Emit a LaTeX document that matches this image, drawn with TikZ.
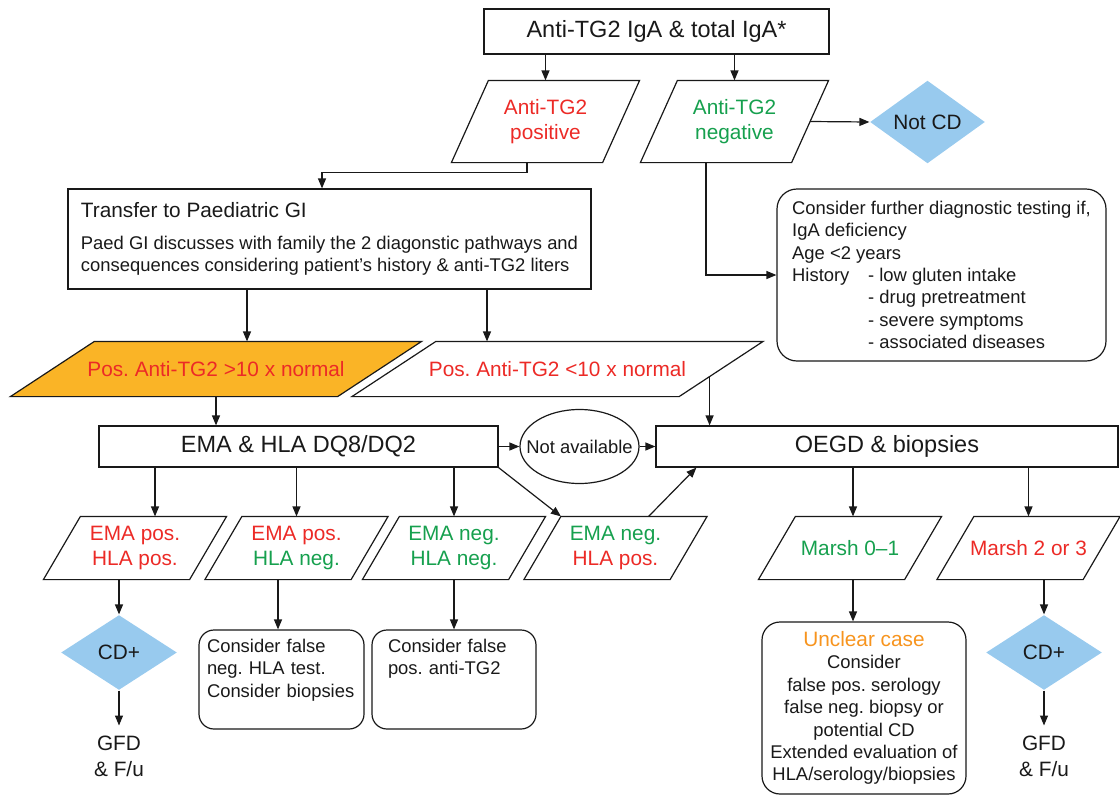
\documentclass[tikz,border=0pt]{standalone}
\usepackage{fontspec}
\setmainfont{Liberation Sans}
\usetikzlibrary{shapes.geometric,arrows.meta,calc,backgrounds}
\definecolor{cdred}{RGB}{236,42,38}
\definecolor{cdgreen}{RGB}{22,160,78}
\definecolor{cdorange}{RGB}{247,148,30}
\definecolor{cdfill}{RGB}{250,180,38}
\definecolor{cdblue}{RGB}{152,202,238}
\definecolor{ink}{RGB}{25,25,25}
\newcommand{\fbig}{\fontsize{23.5}{27}\selectfont}
\newcommand{\fmid}{\fontsize{20.8}{25.5}\selectfont}
\newcommand{\fsm}{\fontsize{18.4}{22.4}\selectfont}
% parallelogram outline drawn from a named node's bounding box; #3 = slant offset
\newcommand{\pgram}[3][]{\draw[pgline,#1] (#2.south west) -- ([xshift=-#3]#2.south east) -- (#2.north east) -- ([xshift=#3]#2.north west) -- cycle;}
\frenchspacing
\begin{document}
\begin{tikzpicture}[x=1pt,y=-1pt,line width=1.2pt,draw=ink,text=ink,
  pgline/.style={line width=1.2pt,draw=ink,line join=miter},
  box/.style={draw,rectangle,inner sep=0pt},
  rbox/.style={draw,rectangle,rounded corners=#1,inner sep=0pt},
  rbox/.default=16pt,
  para/.style={rectangle,inner sep=0pt,align=center,font=\fmid},
  smallpara/.style={para,minimum width=182pt,minimum height=62pt},
  toppara/.style={para,minimum width=187pt,minimum height=81pt},
  widepara/.style={para,minimum width=410pt,minimum height=54pt,text=cdred},
  dia/.style={diamond,fill=cdblue,inner sep=0pt,font=\fmid,minimum width=116pt,minimum height=75pt},
  endtext/.style={font=\fmid,align=center,anchor=north,inner xsep=0pt,inner ysep=10pt},
  arr/.style={-{Triangle[length=10pt,width=8pt]},line width=1.2pt}]
\useasboundingbox (0,0) rectangle (1120,796);

% top level
\node[box,minimum width=345pt,minimum height=45pt,font=\fbig] (title) at (656.5,31.5) {Anti-TG2 IgA \& total IgA*};
\node[toppara,text=cdred] (pos) at (545.5,121.5) {Anti-TG2\\positive};
\node[toppara,text=cdgreen] (neg) at (734.5,121.5) {Anti-TG2\\negative};
\node[dia,minimum width=115pt,minimum height=74pt] (notcd) at (927.5,122) {Not CD};

\node[box,minimum width=523pt,minimum height=100pt,align=left,font=\fsm] (trans) at (329.5,239)
  {{\fmid Transfer to Paediatric GI}\\[9pt]Paed GI discusses with family the 2 diagonstic pathways and\\consequences considering patient’s history \& anti-TG2 liters};

\node[rbox=20pt,minimum width=329pt,minimum height=172pt,align=left,font=\fsm] (cons) at (941.5,275)
  {Consider further diagnostic testing if,\\IgA deficiency\\Age <2 years\\\makebox[76pt][l]{History}- low gluten intake\\\hspace*{76pt}- drug pretreatment\\\hspace*{76pt}- severe symptoms\\\hspace*{76pt}- associated diseases};

\node[widepara] (hi) at (216,369) {Pos. Anti-TG2 >10 x normal};
\node[widepara] (lo) at (557.5,369) {Pos. Anti-TG2 <10 x normal};

\node[box,minimum width=399pt,minimum height=41pt,font=\fbig] (ema) at (298.5,446.5) {EMA \& HLA DQ8/DQ2};
\node[draw,ellipse,minimum width=119pt,minimum height=74pt,inner xsep=-15pt,inner ysep=0pt,font=\fsm] (na) at (579.5,446.5) {Not available};
\node[box,minimum width=462pt,minimum height=41pt,font=\fbig] (oegd) at (887,446.5) {OEGD \& biopsies};

% results
\node[smallpara] (p1) at (135,548) {\textcolor{cdred}{EMA pos.}\\\textcolor{cdred}{HLA pos.}};
\node[smallpara] (p2) at (296.5,548) {\textcolor{cdred}{EMA pos.}\\\textcolor{cdgreen}{HLA neg.}};
\node[smallpara] (p3) at (454,548) {\textcolor{cdgreen}{EMA neg.}\\\textcolor{cdgreen}{HLA neg.}};
\node[smallpara] (p4) at (615.5,548) {\textcolor{cdgreen}{EMA neg.}\\\textcolor{cdred}{HLA pos.}};
\node[smallpara,text=cdgreen] (m0) at (850,548) {Marsh 0–1};
\node[smallpara,text=cdred] (m2) at (1028.5,548) {Marsh 2 or 3};

\node[dia] (cd1) at (119,652.5) {CD+};
\node[dia] (cd2) at (1044,652.5) {CD+};
\node[endtext] (gfd1) at (119,725.5) {GFD\\\& F/u};
\node[endtext] (gfd2) at (1044,725.5) {GFD\\\& F/u};

\node[rbox=15pt,minimum width=165pt,minimum height=99pt,text width=149pt,align=left,font=\fsm] (fneg) at (281.5,679.5)
  {Consider false\\neg. HLA test.\\Consider biopsies\\\mbox{}};
\node[rbox=15pt,minimum width=164pt,minimum height=99pt,text width=132pt,align=left,font=\fsm] (fpos) at (454,679.5)
  {Consider false\\pos. anti-TG2\\\mbox{}\\\mbox{}};
\node[rbox=18pt,minimum width=204pt,minimum height=172pt,align=center,font=\fsm] (uncl) at (864,708)
  {{\fmid\color{cdorange}Unclear case}\\Consider\\false pos. serology\\false neg. biopsy or\\potential CD\\Extended evaluation of\\HLA/serology/biopsies};

% parallelogram outlines behind the texts
\begin{scope}[on background layer]
  \pgram{pos}{37pt}
  \pgram{neg}{37pt}
  \pgram[fill=cdfill]{hi}{84pt}
  \pgram{lo}{84pt}
  \pgram{p1}{37pt}
  \pgram{p2}{37pt}
  \pgram{p3}{37pt}
  \pgram{p4}{37pt}
  \pgram{m0}{37pt}
  \pgram{m2}{37pt}
\end{scope}

% connection points on slanted or shifted edges
\coordinate (posb) at ([xshift=-18.5pt]pos.south);
\coordinate (negr) at ([xshift=-18.5pt]neg.east);
\coordinate (negb) at ([xshift=-28.5pt]neg.south);
\coordinate (lr) at ($([xshift=-84pt]lo.south east)!0.363!(lo.north east)$);
\coordinate (p4tl) at ([xshift=37pt]p4.north west);
\coordinate (p4t) at ($(p4tl)!0.6!(p4.north east)$);
\coordinate (p2b) at ([xshift=-18.5pt]p2.south);

% connectors
\draw[arr] (title.south -| pos.north) -- (pos.north);
\draw[arr] (title.south -| neg.north) -- (neg.north);
\draw[arr] (negr) -- (notcd.west);
\draw[arr] (posb) -- ++(0,10) -| ([xshift=-7.5pt]trans.north);
\draw[arr] (negb) |- (cons.west);
\draw[arr] (trans.south -| 247,0) -- (hi.north -| 247,0);
\draw[arr] (trans.south -| 487,0) -- (lo.north -| 487,0);
\draw[arr] (hi.south) -- (ema.north -| hi.south);
\draw[arr] (lr) -- (oegd.north -| lr);
\draw[arr] (ema.east) -- (na.west);
\draw[arr] (na.east) -- (oegd.west);
\draw[arr] (ema.south -| 155,0) -- (p1.north -| 155,0);
\draw[arr] (ema.south -| p2.north) -- (p2.north);
\draw[arr] (ema.south -| p3.north) -- (p3.north);
\draw[arr] (ema.south east) -- (p4tl);
\draw[arr] (p4t) -- ([xshift=41pt]oegd.south west);
\draw[arr] (oegd.south -| 853,0) -- (m0.north -| 853,0);
\draw[arr] (oegd.south -| m2.north) -- (m2.north);
\draw[arr] (cd1.north |- p1.south) -- (cd1.north);
\draw[arr] (cd1.south) -- (gfd1.north);
\draw[arr] (p2b) -- (fneg.north -| p2b);
\draw[arr] (p3.south) -- (fpos.north);
\draw[arr] (m0.south -| 853,0) -- (uncl.north -| 853,0);
\draw[arr] (cd2.north |- m2.south) -- (cd2.north);
\draw[arr] (cd2.south) -- (gfd2.north);
\end{tikzpicture}
\end{document}
